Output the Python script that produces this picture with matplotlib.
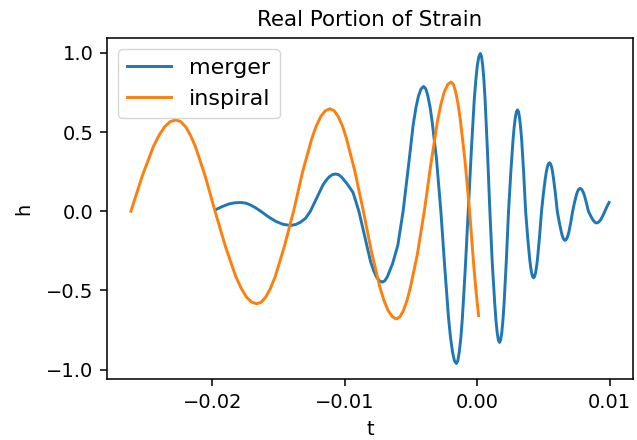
import matplotlib
matplotlib.use("Agg")
import matplotlib.pyplot as plt
import numpy as np

# values (t in milliseconds, converted to seconds below)
merger_t_ms = [
    -19.70, -19.24, -18.78, -18.32, -17.86, -17.48, -17.11, -16.73, -16.35,
    -15.79, -15.22, -14.66, -14.09, -13.72, -13.35, -12.97, -12.60,
    -12.13, -11.65, -11.41, -11.18, -10.94, -10.70, -10.48, -10.26, -10.04, -9.82, -9.38, -8.94,
    -8.50, -8.06, -7.84, -7.62, -7.40, -7.18, -6.98, -6.79, -6.59, -6.39, -6.00, -5.60,
    -5.21, -4.84, -4.63, -4.44, -4.24, -4.05, -3.89, -3.73, -3.56, -3.40, -3.08, -2.75,
    -2.46, -2.17, -2.02, -1.87, -1.73, -1.58, -1.47, -1.36, -1.24, -1.13, -0.91, -0.68,
    -0.45, -0.23, -0.11, 0.00, 0.12, 0.23, 0.32, 0.41, 0.50, 0.59, 0.77, 0.95,
    1.13, 1.32, 1.41, 1.50, 1.59, 1.68, 1.765, 1.85, 1.935, 2.02, 2.19, 2.36,
    2.53, 2.70, 2.785, 2.87, 2.955, 3.04, 3.116, 3.19, 3.269, 3.35, 3.50, 3.65,
    3.80, 3.95, 4.025, 4.10, 4.175, 4.25, 4.325, 4.40, 4.475, 4.55, 4.70, 4.85,
    5.00, 5.15, 5.225, 5.30, 5.375, 5.45, 5.524, 5.60, 5.671, 5.74, 5.89, 6.04,
    6.19, 6.34, 6.409, 6.48, 6.556, 6.63, 6.701, 6.77, 6.844, 6.92, 7.06, 7.20,
    7.34, 7.48, 7.55, 7.62, 7.69, 7.76, 7.839, 7.92, 7.996, 8.08, 8.23, 8.39,
    8.55, 8.71, 8.784, 8.86, 8.941, 9.02, 9.10, 9.18, 9.26, 9.34, 9.50, 9.65, 9.80, 9.95,
]
merger_h = [
    0.012, 0.030, 0.045, 0.053, 0.055, 0.051, 0.039, 0.021, 0.0,
    -0.034, -0.064, -0.083, -0.090, -0.084, -0.070, -0.045, 0.0,
    0.082, 0.166, 0.195, 0.217, 0.231, 0.235, 0.231, 0.217, 0.195, 0.172, 0.118, 0.0,
    -0.158, -0.317, -0.372, -0.414, -0.439, -0.448, -0.439, -0.414, -0.372, -0.330, -0.215, 0.0,
    0.275, 0.545, 0.655, 0.728, 0.773, 0.788, 0.773, 0.728, 0.655, 0.560, 0.330, 0.0,
    -0.350, -0.675, -0.799, -0.889, -0.944, -0.962, -0.944, -0.889, -0.799, -0.680, -0.368, 0.0,
    0.381, 0.704, 0.828, 0.920, 0.977, 0.996, 0.977, 0.920, 0.828, 0.704, 0.375, 0.0,
    -0.325, -0.586, -0.689, -0.766, -0.813, -0.829, -0.813, -0.766, -0.689, -0.586, -0.317, 0.0,
    0.245, 0.452, 0.532, 0.591, 0.628, 0.640, 0.628, 0.591, 0.532, 0.452, 0.245, 0.0,
    -0.161, -0.298, -0.350, -0.389, -0.413, -0.421, -0.413, -0.389, -0.350, -0.298, -0.161, 0.0,
    0.117, 0.216, 0.254, 0.283, 0.300, 0.306, 0.300, 0.283, 0.254, 0.216, 0.117, 0.0,
    -0.070, -0.130, -0.153, -0.170, -0.180, -0.184, -0.180, -0.170, -0.153, -0.130, -0.070, 0.0,
    0.055, 0.102, 0.120, 0.133, 0.141, 0.144, 0.141, 0.133, 0.120, 0.102, 0.055, 0.0,
    -0.028, -0.052, -0.061, -0.068, -0.073, -0.074, -0.072, -0.067, -0.060, -0.051, -0.025, 0.003, 0.031, 0.055,
]

inspiral_t_ms = [
    -26.15, -25.30, -24.46, -24.03, -23.61, -23.18, -22.76, -22.39, -22.02, -21.65, -21.28, -20.54, -19.80,
    -19.01, -18.23, -17.83, -17.44, -17.04, -16.65, -16.30, -15.96, -15.61, -15.26, -14.57, -13.87,
    -13.19, -12.50, -12.16, -11.82, -11.47, -11.13, -10.81, -10.50, -10.18, -9.87, -9.23, -8.60,
    -7.98, -7.35, -7.04, -6.73, -6.41, -6.10, -5.84, -5.58, -5.31, -5.05, -4.53, -4.00,
    -3.50, -2.99, -2.74, -2.49, -2.23, -1.98, -1.805, -1.63, -1.455, -1.28, -0.93, -0.58,
    -0.41, -0.24, -0.07, 0.10,
]
inspiral_h = [
    0.0, 0.221, 0.408, 0.479, 0.533, 0.566, 0.577, 0.566, 0.533, 0.479, 0.408, 0.221, 0.0,
    -0.224, -0.414, -0.486, -0.541, -0.574, -0.585, -0.574, -0.541, -0.486, -0.414, -0.224, 0.0,
    0.248, 0.457, 0.538, 0.598, 0.635, 0.647, 0.635, 0.598, 0.538, 0.457, 0.248, 0.0,
    -0.260, -0.481, -0.565, -0.628, -0.667, -0.680, -0.667, -0.628, -0.565, -0.481, -0.275, 0.0,
    0.300, 0.577, 0.678, 0.754, 0.801, 0.816, 0.801, 0.754, 0.678, 0.577, 0.320, 0.0,
    -0.190, -0.370, -0.525, -0.660,
]

merger_t = np.array(merger_t_ms) / 1000.0
inspiral_t = np.array(inspiral_t_ms) / 1000.0

s = 1.4
plt.rcParams['font.size'] = 10 * s

fig = plt.figure(figsize=(6.37, 4.40), dpi=100)
ax = fig.add_axes([0.168, 0.1386, 0.8257, 0.775])

ax.plot(merger_t, merger_h, label='merger', lw=1.5 * s)
ax.plot(inspiral_t, inspiral_h, label='inspiral', lw=1.5 * s)

ax.set_title('Real Portion of Strain', fontsize=15.4, pad=6 * s)
ax.set_xlabel('t', labelpad=6)
ax.set_ylabel('h', labelpad=9)
ax.set_xticks([-0.02, -0.01, 0.00, 0.01])
ax.set_yticks([-1.0, -0.5, 0.0, 0.5, 1.0])
ax.tick_params(length=3.5 * s, width=0.8 * s, pad=3.5 * s)
for sp in ax.spines.values():
    sp.set_linewidth(0.8 * s)

ax.legend(loc='upper left', fontsize=16)

fig.savefig('out.png', dpi=100)
